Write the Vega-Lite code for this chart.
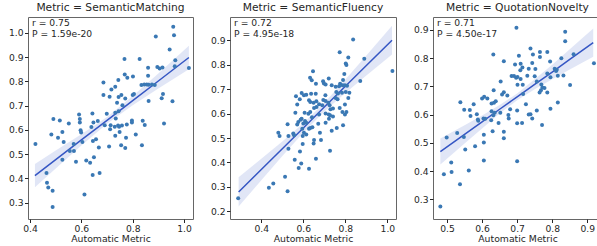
{
  "$schema": "https://vega.github.io/schema/vega-lite/v6.json",
  "padding": {"left": 7, "top": 1, "right": 0, "bottom": 0},
  "background": "white",
  "spacing": 15,
  "config": {
    "font": "DejaVu Sans",
    "view": {"stroke": "#666666", "strokeWidth": 1},
    "axis": {"grid": false, "domain": false, "labelOverlap": false, "labelFlush": false, "labelBound": false, "labelFont": "DejaVu Sans", "labelFontSize": 9.2, "labelColor": "#262626", "tickColor": "#262626", "tickSize": 3.5, "labelPadding": 1.5, "titleFont": "DejaVu Sans", "titleFontSize": 9.3, "titleFontWeight": "normal", "titleColor": "#262626", "titlePadding": 1, "format": ".1f"},
    "title": {"font": "DejaVu Sans", "fontSize": 10.7, "fontWeight": "normal", "color": "#262626", "offset": 3}
  },
  "datasets": {
    "p1": [
      {"x":0.958,"y":1.025},{"x":0.961,"y":0.990},{"x":0.890,"y":0.985},{"x":0.944,"y":0.931},{"x":0.768,"y":0.892},{"x":0.827,"y":0.892},{"x":1.019,"y":0.855},{"x":0.966,"y":0.887},{"x":0.964,"y":0.862},{"x":0.896,"y":0.859},{"x":0.905,"y":0.853},{"x":0.916,"y":0.857},{"x":0.860,"y":0.856},{"x":0.860,"y":0.823},{"x":0.769,"y":0.828},{"x":0.779,"y":0.814},{"x":0.801,"y":0.820},{"x":0.744,"y":0.805},{"x":0.686,"y":0.795},{"x":0.732,"y":0.777},{"x":0.717,"y":0.766},{"x":0.834,"y":0.785},{"x":0.845,"y":0.787},{"x":0.855,"y":0.787},{"x":0.862,"y":0.786},{"x":0.875,"y":0.787},{"x":0.886,"y":0.785},{"x":0.686,"y":0.743},{"x":0.710,"y":0.736},{"x":0.745,"y":0.735},{"x":0.756,"y":0.743},{"x":0.771,"y":0.729},{"x":0.800,"y":0.743},{"x":0.805,"y":0.747},{"x":0.739,"y":0.711},{"x":0.760,"y":0.701},{"x":0.918,"y":0.747},{"x":0.913,"y":0.730},{"x":0.862,"y":0.719},{"x":0.955,"y":0.718},{"x":0.643,"y":0.667},{"x":0.591,"y":0.663},{"x":0.699,"y":0.666},{"x":0.732,"y":0.670},{"x":0.745,"y":0.676},{"x":0.734,"y":0.646},
      {"x":0.491,"y":0.644},{"x":0.516,"y":0.638},{"x":0.551,"y":0.626},{"x":0.594,"y":0.644},{"x":0.594,"y":0.630},{"x":0.597,"y":0.598},{"x":0.599,"y":0.589},{"x":0.483,"y":0.580},{"x":0.509,"y":0.567},{"x":0.526,"y":0.591},{"x":0.531,"y":0.550},{"x":0.421,"y":0.541},{"x":0.570,"y":0.541},{"x":0.555,"y":0.512},{"x":0.571,"y":0.512},{"x":0.526,"y":0.476},{"x":0.579,"y":0.468},{"x":0.604,"y":0.550},{"x":0.619,"y":0.473},{"x":0.634,"y":0.464},{"x":0.649,"y":0.487},{"x":0.644,"y":0.413},{"x":0.671,"y":0.422},{"x":0.657,"y":0.561},{"x":0.668,"y":0.527},{"x":0.645,"y":0.554},{"x":0.639,"y":0.611},{"x":0.647,"y":0.630},{"x":0.664,"y":0.636},{"x":0.691,"y":0.619},{"x":0.712,"y":0.602},{"x":0.714,"y":0.619},{"x":0.708,"y":0.531},{"x":0.732,"y":0.575},{"x":0.749,"y":0.591},{"x":0.747,"y":0.612},{"x":0.730,"y":0.612},{"x":0.743,"y":0.618},{"x":0.758,"y":0.618},{"x":0.755,"y":0.536},{"x":0.771,"y":0.525},{"x":0.774,"y":0.567},{"x":0.777,"y":0.622},{"x":0.797,"y":0.638},{"x":0.797,"y":0.630},{"x":0.812,"y":0.580},{"x":0.839,"y":0.637},{"x":0.847,"y":0.620},{"x":0.836,"y":0.536},{"x":0.922,"y":0.626},{"x":0.464,"y":0.422},{"x":0.466,"y":0.381},{"x":0.471,"y":0.362},{"x":0.488,"y":0.349},{"x":0.488,"y":0.281},{"x":0.612,"y":0.333}
    ],
    "b1": [
      {"x":0.419,"lo":0.363,"hi":0.459,"fit":0.411},{"x":0.5,"lo":0.440,"hi":0.514,"fit":0.477},{"x":0.6,"lo":0.535,"hi":0.581,"fit":0.558},{"x":0.7,"lo":0.625,"hi":0.653,"fit":0.639},{"x":0.8,"lo":0.701,"hi":0.739,"fit":0.720},{"x":0.9,"lo":0.770,"hi":0.832,"fit":0.801},{"x":1.019,"lo":0.850,"hi":0.946,"fit":0.898}
    ],
    "p2": [
      {"x":0.290,"y":0.253},{"x":0.436,"y":0.296},{"x":0.457,"y":0.314},{"x":0.525,"y":0.282},{"x":0.513,"y":0.341},{"x":0.578,"y":0.377},{"x":0.627,"y":0.374},{"x":0.590,"y":0.396},{"x":0.559,"y":0.411},{"x":0.660,"y":0.415},{"x":0.529,"y":0.456},{"x":0.584,"y":0.445},{"x":0.727,"y":0.448},{"x":0.597,"y":0.475},{"x":0.651,"y":0.492},{"x":0.649,"y":0.477},{"x":0.684,"y":0.492},{"x":0.481,"y":0.522},{"x":0.487,"y":0.508},{"x":0.529,"y":0.508},{"x":0.552,"y":0.518},{"x":0.556,"y":0.511},{"x":0.597,"y":0.508},{"x":0.525,"y":0.556},{"x":0.571,"y":0.555},{"x":0.576,"y":0.566},{"x":0.592,"y":0.579},{"x":0.608,"y":0.570},{"x":0.614,"y":0.563},{"x":0.600,"y":0.559},{"x":0.595,"y":0.538},{"x":0.603,"y":0.522},{"x":0.614,"y":0.514},{"x":0.627,"y":0.538},{"x":0.633,"y":0.541},{"x":0.643,"y":0.544},{"x":0.671,"y":0.558},{"x":0.706,"y":0.563},{"x":0.722,"y":0.579},{"x":0.727,"y":0.593},{"x":0.679,"y":0.522},{"x":0.735,"y":0.530},{"x":0.759,"y":0.541},{"x":0.789,"y":0.552},
      {"x":0.837,"y":0.904},{"x":0.773,"y":0.851},{"x":0.890,"y":0.825},{"x":0.814,"y":0.830},{"x":0.802,"y":0.805},{"x":0.805,"y":0.799},{"x":1.024,"y":0.775},{"x":0.646,"y":0.774},{"x":0.795,"y":0.762},{"x":0.632,"y":0.747},{"x":0.640,"y":0.737},{"x":0.694,"y":0.733},{"x":0.721,"y":0.744},{"x":0.871,"y":0.734},{"x":0.660,"y":0.722},{"x":0.698,"y":0.723},{"x":0.706,"y":0.719},{"x":0.775,"y":0.722},{"x":0.787,"y":0.716},{"x":0.798,"y":0.716},{"x":0.808,"y":0.714},{"x":0.770,"y":0.712},{"x":0.754,"y":0.710},{"x":0.789,"y":0.738},{"x":0.735,"y":0.716},{"x":0.592,"y":0.684},{"x":0.637,"y":0.681},{"x":0.659,"y":0.681},{"x":0.565,"y":0.671},{"x":0.603,"y":0.675},{"x":0.614,"y":0.677},{"x":0.705,"y":0.675},{"x":0.757,"y":0.689},{"x":0.765,"y":0.682},{"x":0.784,"y":0.686},{"x":0.802,"y":0.689},{"x":0.819,"y":0.686},{"x":0.754,"y":0.664},{"x":0.763,"y":0.659},{"x":0.814,"y":0.664},{"x":0.571,"y":0.637},{"x":0.583,"y":0.659},{"x":0.627,"y":0.655},{"x":0.633,"y":0.648},{"x":0.649,"y":0.645},{"x":0.662,"y":0.651},{"x":0.675,"y":0.638},{"x":0.695,"y":0.656},{"x":0.706,"y":0.652},{"x":0.719,"y":0.645},{"x":0.725,"y":0.634},{"x":0.729,"y":0.618},{"x":0.741,"y":0.621},{"x":0.651,"y":0.623},{"x":0.663,"y":0.627},{"x":0.606,"y":0.604},{"x":0.624,"y":0.599},{"x":0.633,"y":0.607},{"x":0.690,"y":0.634},{"x":0.706,"y":0.600},{"x":0.721,"y":0.596},{"x":0.675,"y":0.596},{"x":0.773,"y":0.623},{"x":0.798,"y":0.637},{"x":0.786,"y":0.607},{"x":0.798,"y":0.596},{"x":0.805,"y":0.607},{"x":0.562,"y":0.604},{"x":0.587,"y":0.575},{"x":0.641,"y":0.585},{"x":0.741,"y":0.588}
    ],
    "b2": [
      {"x":0.292,"lo":0.219,"hi":0.339,"fit":0.279},{"x":0.4,"lo":0.327,"hi":0.415,"fit":0.371},{"x":0.5,"lo":0.426,"hi":0.486,"fit":0.456},{"x":0.6,"lo":0.522,"hi":0.560,"fit":0.541},{"x":0.7,"lo":0.609,"hi":0.645,"fit":0.627},{"x":0.8,"lo":0.684,"hi":0.740,"fit":0.712},{"x":0.9,"lo":0.756,"hi":0.838,"fit":0.797},{"x":1.022,"lo":0.842,"hi":0.960,"fit":0.901}
    ],
    "p3": [
      {"x":0.481,"y":0.274},{"x":0.491,"y":0.389},{"x":0.513,"y":0.397},{"x":0.512,"y":0.430},{"x":0.537,"y":0.353},{"x":0.562,"y":0.402},{"x":0.552,"y":0.476},{"x":0.580,"y":0.488},{"x":0.499,"y":0.519},{"x":0.529,"y":0.535},{"x":0.548,"y":0.521},{"x":0.605,"y":0.501},{"x":0.605,"y":0.529},{"x":0.630,"y":0.541},{"x":0.662,"y":0.516},{"x":0.662,"y":0.539},{"x":0.700,"y":0.435},{"x":0.605,"y":0.437},{"x":0.538,"y":0.644},{"x":0.549,"y":0.617},{"x":0.565,"y":0.616},{"x":0.576,"y":0.637},{"x":0.567,"y":0.595},{"x":0.585,"y":0.601},{"x":0.588,"y":0.583},{"x":0.589,"y":0.578},{"x":0.604,"y":0.586},{"x":0.609,"y":0.585},{"x":0.600,"y":0.657},{"x":0.606,"y":0.663},{"x":0.615,"y":0.657},{"x":0.627,"y":0.639},{"x":0.634,"y":0.642},{"x":0.639,"y":0.647},{"x":0.633,"y":0.686},{"x":0.632,"y":0.813},{"x":0.662,"y":0.789},{"x":0.627,"y":0.612},{"x":0.632,"y":0.598},{"x":0.636,"y":0.607},{"x":0.626,"y":0.580},{"x":0.647,"y":0.570},{"x":0.652,"y":0.607},{"x":0.657,"y":0.671},{"x":0.662,"y":0.679},{"x":0.672,"y":0.668},{"x":0.675,"y":0.599},{"x":0.676,"y":0.586},{"x":0.680,"y":0.619},{"x":0.684,"y":0.737},{"x":0.691,"y":0.737},{"x":0.697,"y":0.731},{"x":0.701,"y":0.733},{"x":0.694,"y":0.778},{"x":0.701,"y":0.706},{"x":0.700,"y":0.569},{"x":0.700,"y":0.615},{"x":0.714,"y":0.570},{"x":0.725,"y":0.637},{"x":0.717,"y":0.673},{"x":0.710,"y":0.726},{"x":0.716,"y":0.706},{"x":0.709,"y":0.757},{"x":0.715,"y":0.767},{"x":0.705,"y":0.809},{"x":0.710,"y":0.780},{"x":0.698,"y":0.908},{"x":0.729,"y":0.738},{"x":0.733,"y":0.600},{"x":0.738,"y":0.601},{"x":0.743,"y":0.586},{"x":0.733,"y":0.763},{"x":0.738,"y":0.834},{"x":0.745,"y":0.813},{"x":0.743,"y":0.783},{"x":0.752,"y":0.762},{"x":0.750,"y":0.736},{"x":0.756,"y":0.717},{"x":0.756,"y":0.615},{"x":0.765,"y":0.822},{"x":0.765,"y":0.804},{"x":0.769,"y":0.707},{"x":0.764,"y":0.678},{"x":0.768,"y":0.686},{"x":0.772,"y":0.696},{"x":0.778,"y":0.694},{"x":0.771,"y":0.563},{"x":0.786,"y":0.822},{"x":0.786,"y":0.746},{"x":0.786,"y":0.678},{"x":0.795,"y":0.732},{"x":0.795,"y":0.621},{"x":0.794,"y":0.788},{"x":0.807,"y":0.763},{"x":0.813,"y":0.759},{"x":0.811,"y":0.755},{"x":0.816,"y":0.738},{"x":0.816,"y":0.643},{"x":0.826,"y":0.800},{"x":0.832,"y":0.739},{"x":0.837,"y":0.894},{"x":0.837,"y":0.860},{"x":0.851,"y":0.705},{"x":0.861,"y":0.814},{"x":0.919,"y":0.782},{"x":0.653,"y":0.717}
    ],
    "b3": [
      {"x":0.481,"lo":0.423,"hi":0.515,"fit":0.469},{"x":0.55,"lo":0.498,"hi":0.562,"fit":0.530},{"x":0.6,"lo":0.551,"hi":0.597,"fit":0.574},{"x":0.65,"lo":0.604,"hi":0.634,"fit":0.619},{"x":0.7,"lo":0.651,"hi":0.675,"fit":0.663},{"x":0.75,"lo":0.690,"hi":0.725,"fit":0.707},{"x":0.8,"lo":0.725,"hi":0.777,"fit":0.751},{"x":0.85,"lo":0.760,"hi":0.832,"fit":0.796},{"x":0.917,"lo":0.805,"hi":0.905,"fit":0.855}
    ]
  },
  "hconcat": [
    {
      "width": 165, "height": 202,
      "title": "Metric = SemanticMatching",
      "layer": [
        {"data": {"name": "b1"}, "mark": {"type": "area", "color": "#3556c4", "opacity": 0.15},
         "encoding": {"x": {"field": "x", "type": "quantitative", "scale": {"domain": [0.392, 1.035], "nice": false, "zero": false}, "axis": {"values": [0.4, 0.6, 0.8, 1.0], "tickCount": 20, "title": "Automatic Metric"}},
                      "y": {"field": "lo", "type": "quantitative", "scale": {"domain": [0.232, 1.065], "nice": false, "zero": false}, "axis": {"values": [0.3, 0.4, 0.5, 0.6, 0.7, 0.8, 0.9, 1.0], "tickCount": 20, "title": null}},
                      "y2": {"field": "hi"}}},
        {"data": {"name": "b1"}, "mark": {"type": "line", "color": "#3556c4", "strokeWidth": 1.5},
         "encoding": {"x": {"field": "x", "type": "quantitative"}, "y": {"field": "fit", "type": "quantitative"}}},
        {"data": {"name": "p1"}, "mark": {"type": "circle", "size": 16, "color": "#3a78b4", "opacity": 1},
         "encoding": {"x": {"field": "x", "type": "quantitative"}, "y": {"field": "y", "type": "quantitative"}}},
        {"data": {"values": [{"label": ["r = 0.75", "P = 1.59e-20"]}]}, "mark": {"type": "text", "align": "left", "baseline": "top", "dx": 4, "dy": 2, "fontSize": 9.2, "lineHeight": 10.7, "color": "#262626"},
         "encoding": {"x": {"datum": 0.392, "type": "quantitative"}, "y": {"datum": 1.065, "type": "quantitative"}, "text": {"field": "label"}}}
      ]
    },
    {
      "width": 166, "height": 202,
      "title": "Metric = SemanticFluency",
      "layer": [
        {"data": {"name": "b2"}, "mark": {"type": "area", "color": "#3556c4", "opacity": 0.15},
         "encoding": {"x": {"field": "x", "type": "quantitative", "scale": {"domain": [0.251, 1.041], "nice": false, "zero": false}, "axis": {"values": [0.4, 0.6, 0.8, 1.0], "tickCount": 20, "title": "Automatic Metric"}},
                      "y": {"field": "lo", "type": "quantitative", "scale": {"domain": [0.168, 0.996], "nice": false, "zero": false}, "axis": {"values": [0.2, 0.3, 0.4, 0.5, 0.6, 0.7, 0.8, 0.9], "tickCount": 20, "title": null}},
                      "y2": {"field": "hi"}}},
        {"data": {"name": "b2"}, "mark": {"type": "line", "color": "#3556c4", "strokeWidth": 1.5},
         "encoding": {"x": {"field": "x", "type": "quantitative"}, "y": {"field": "fit", "type": "quantitative"}}},
        {"data": {"name": "p2"}, "mark": {"type": "circle", "size": 16, "color": "#3a78b4", "opacity": 1},
         "encoding": {"x": {"field": "x", "type": "quantitative"}, "y": {"field": "y", "type": "quantitative"}}},
        {"data": {"values": [{"label": ["r = 0.72", "P = 4.95e-18"]}]}, "mark": {"type": "text", "align": "left", "baseline": "top", "dx": 4, "dy": 2, "fontSize": 9.2, "lineHeight": 10.7, "color": "#262626"},
         "encoding": {"x": {"datum": 0.251, "type": "quantitative"}, "y": {"datum": 0.996, "type": "quantitative"}, "text": {"field": "label"}}}
      ]
    },
    {
      "width": 169, "height": 202,
      "title": "Metric = QuotationNovelty",
      "layer": [
        {"data": {"name": "b3"}, "mark": {"type": "area", "color": "#3556c4", "opacity": 0.15},
         "encoding": {"x": {"field": "x", "type": "quantitative", "scale": {"domain": [0.46, 0.942], "nice": false, "zero": false}, "axis": {"values": [0.5, 0.6, 0.7, 0.8, 0.9], "tickCount": 20, "title": "Automatic Metric"}},
                      "y": {"field": "lo", "type": "quantitative", "scale": {"domain": [0.23, 0.946], "nice": false, "zero": false}, "axis": {"values": [0.3, 0.4, 0.5, 0.6, 0.7, 0.8, 0.9], "tickCount": 20, "title": null}},
                      "y2": {"field": "hi"}}},
        {"data": {"name": "b3"}, "mark": {"type": "line", "color": "#3556c4", "strokeWidth": 1.5},
         "encoding": {"x": {"field": "x", "type": "quantitative"}, "y": {"field": "fit", "type": "quantitative"}}},
        {"data": {"name": "p3"}, "mark": {"type": "circle", "size": 16, "color": "#3a78b4", "opacity": 1},
         "encoding": {"x": {"field": "x", "type": "quantitative"}, "y": {"field": "y", "type": "quantitative"}}},
        {"data": {"values": [{"label": ["r = 0.71", "P = 4.50e-17"]}]}, "mark": {"type": "text", "align": "left", "baseline": "top", "dx": 4, "dy": 2, "fontSize": 9.2, "lineHeight": 10.7, "color": "#262626"},
         "encoding": {"x": {"datum": 0.46, "type": "quantitative"}, "y": {"datum": 0.946, "type": "quantitative"}, "text": {"field": "label"}}}
      ]
    }
  ]
}
